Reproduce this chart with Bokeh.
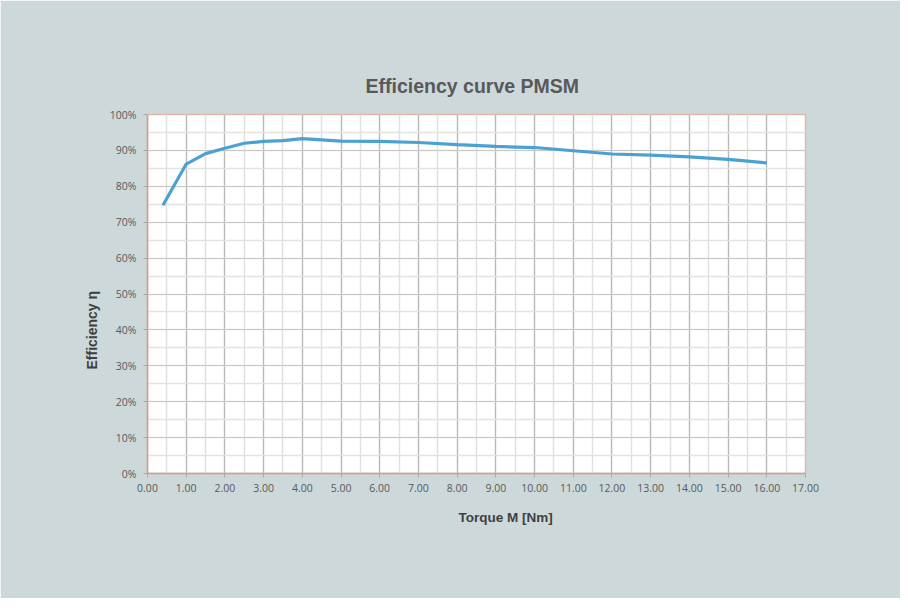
from bokeh.plotting import figure
from bokeh.models import Range1d, FixedTicker, NumeralTickFormatter, Title
from bokeh.embed import file_html
from bokeh.resources import INLINE

# Data
torque = [0.4, 1.0, 1.5, 2.0, 2.5, 3.0, 3.5, 4.0, 5.0, 6.0, 7.0, 8.0, 9.0, 10.0, 11.0, 12.0, 13.0, 14.0, 15.0, 16.0]
efficiency = [0.747, 0.862, 0.891, 0.906, 0.920, 0.925, 0.927, 0.933, 0.926, 0.925, 0.922, 0.916, 0.911, 0.908, 0.899, 0.890, 0.887, 0.882, 0.875, 0.865]

x_ticks = list(range(0, 18))
x_minor = [i * 0.5 for i in range(0, 35)]
y_ticks = [i / 10 for i in range(0, 11)]
y_minor = [i / 20 for i in range(0, 21)]

title_text = "Efficiency curve PMSM"
x_label_text = "Torque M [Nm]"
y_label_text = "Efficiency η"

BG = "#cdd8da"
TXT = "#595959"

p = figure(width=900, height=598, output_backend="svg", toolbar_location=None,
           x_range=Range1d(0, 17), y_range=Range1d(0, 1),
           min_border_left=147, min_border_right=95, min_border_top=114, min_border_bottom=125)
p.background_fill_color = "white"
p.border_fill_color = BG
p.outline_line_color = "#e2b9a3"
p.outline_line_width = 1.5

p.xaxis.ticker = FixedTicker(ticks=x_ticks, minor_ticks=x_minor)
p.yaxis.ticker = FixedTicker(ticks=y_ticks, minor_ticks=y_minor)
p.xaxis.formatter = NumeralTickFormatter(format="0.00")
p.yaxis.formatter = NumeralTickFormatter(format="0%")

for ax in (p.xaxis, p.yaxis):
    ax.axis_line_color = "#bfa59c"
    ax.axis_line_width = 1.5
    ax.major_tick_line_color = "#a8a8a8"
    ax.major_tick_in = 0
    ax.major_tick_out = 4
    ax.minor_tick_line_color = None
    ax.major_label_text_font = "Open Sans"
    ax.major_label_text_font_size = "10.5px"
    ax.major_label_text_color = TXT
p.xaxis.major_label_standoff = 6
p.yaxis.major_label_standoff = 7

p.xgrid.grid_line_color = "#b8b8b8"
p.xgrid.minor_grid_line_color = "#e0e0e0"
p.ygrid.grid_line_color = "#c8c8c8"
p.ygrid.minor_grid_line_color = "#e3e3e3"
p.xgrid.grid_line_width = 1.2
p.ygrid.grid_line_width = 1.2
p.xgrid.minor_grid_line_width = 1.5
p.ygrid.minor_grid_line_width = 1.5

p.line(torque, efficiency, line_color="#4ba2d2", line_width=3.2)

main_title = Title(text=title_text, align="left", offset=218, standoff=35,
                   text_font="Liberation Sans", text_font_style="bold", text_font_size="19.5px",
                   text_color=TXT)
p.add_layout(main_title, "above")
x_title = Title(text=x_label_text, align="left", offset=311, standoff=26,
                text_font="Liberation Sans", text_font_style="bold", text_font_size="13.5px",
                text_color="#404040")
p.add_layout(x_title, "below")
y_title = Title(text=y_label_text, align="left", offset=104, standoff=14,
                text_font="Liberation Sans", text_font_style="bold", text_font_size="14px",
                text_color="#404040")
p.add_layout(y_title, "left")

open("out.html", "w").write(file_html(p, INLINE))
